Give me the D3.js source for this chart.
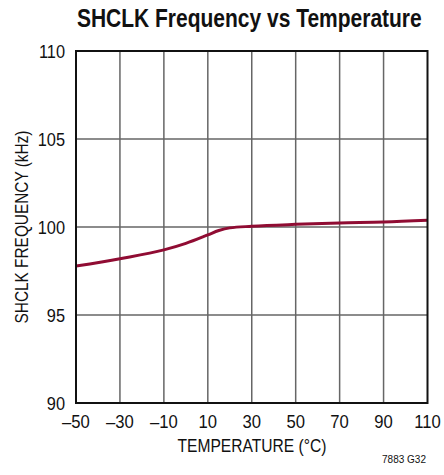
<!DOCTYPE html>
<html><head><meta charset="utf-8">
<script src="https://cdn.jsdelivr.net/npm/d3@7"></script>
<style>body{margin:0;background:#fff}svg{display:block}text{font-family:"Liberation Sans",Arial,sans-serif}</style>
</head><body>
<svg id="c" width="444" height="475"></svg>
<script>
const temps = [-50, -30, -10, 0, 10, 15, 20, 30, 50, 70, 90, 110];
const freqs = [97.78, 98.2, 98.7, 99.07, 99.55, 99.8, 99.95, 100.04, 100.15, 100.23, 100.28, 100.38];
const xTicks = [-50, -30, -10, 10, 30, 50, 70, 90, 110];
const yTicks = [90, 95, 100, 105, 110];
const title = "SHCLK Frequency vs Temperature";
const xLabel = "TEMPERATURE (°C)";
const yLabel = "SHCLK FREQUENCY (kHz)";
const note = "7883 G32";

const svg = d3.select("#c");
const L = 76, R = 427.5, T = 51, B = 403;
const x = d3.scaleLinear().domain([-50, 110]).range([L, R]);
const y = d3.scaleLinear().domain([90, 110]).range([B, T]);

function squeeze(sel, f) {
  sel.each(function () {
    const w = this.getComputedTextLength();
    d3.select(this).attr("textLength", w * f).attr("lengthAdjust", "spacingAndGlyphs");
  });
}

// grid
svg.append("g").selectAll("line").data(xTicks.slice(1, -1)).join("line")
  .attr("x1", d => x(d)).attr("x2", d => x(d)).attr("y1", T).attr("y2", B)
  .attr("stroke", "#666").attr("stroke-width", 1.5);
svg.append("g").selectAll("line").data(yTicks.slice(1, -1)).join("line")
  .attr("y1", d => y(d)).attr("y2", d => y(d)).attr("x1", L).attr("x2", R)
  .attr("stroke", "#666").attr("stroke-width", 1.5);

// curve
const line = d3.line().x((d, i) => x(temps[i])).y(d => y(d)).curve(d3.curveMonotoneX);
svg.append("path").datum(freqs).attr("d", line).attr("fill", "none")
  .attr("stroke", "#900c33").attr("stroke-width", 3);

// frame
svg.append("rect").attr("x", L).attr("y", T).attr("width", R - L).attr("height", B - T)
  .attr("fill", "none").attr("stroke", "#111").attr("stroke-width", 2);

// tick labels
svg.append("g").selectAll("text").data(xTicks).join("text")
  .attr("x", d => x(d)).attr("y", 428.3).attr("text-anchor", "middle")
  .attr("font-size", 18.5).attr("fill", "#111")
  .text(d => d < 0 ? "\u2013" + Math.abs(d) : d)
  .call(squeeze, 0.9);
svg.append("g").selectAll("text").data(yTicks).join("text")
  .attr("x", 65).attr("y", d => y(d) + 6.8).attr("text-anchor", "end")
  .attr("font-size", 19).attr("fill", "#111")
  .text(d => d)
  .call(squeeze, 0.86);

// labels
svg.append("text").attr("x", 252).attr("y", 451.7).attr("text-anchor", "middle")
  .attr("font-size", 17.5).attr("fill", "#111").text(xLabel)
  .attr("textLength", 149).attr("lengthAdjust", "spacingAndGlyphs");
svg.append("text").attr("transform", "translate(28,227) rotate(-90)").attr("text-anchor", "middle")
  .attr("font-size", 19).attr("fill", "#111").text(yLabel)
  .attr("textLength", 193).attr("lengthAdjust", "spacingAndGlyphs");
const tt = svg.append("text").attr("text-anchor", "middle")
  .attr("font-size", 25.5).attr("font-weight", "bold").attr("fill", "#111").text(title);
const tw = tt.node().getComputedTextLength();
tt.attr("transform", `translate(249.3,26.7) scale(${345 / tw},1)`);
svg.append("text").attr("x", 426).attr("y", 462.7).attr("text-anchor", "end")
  .attr("font-size", 10).attr("fill", "#111").text(note);
</script>
</body></html>
